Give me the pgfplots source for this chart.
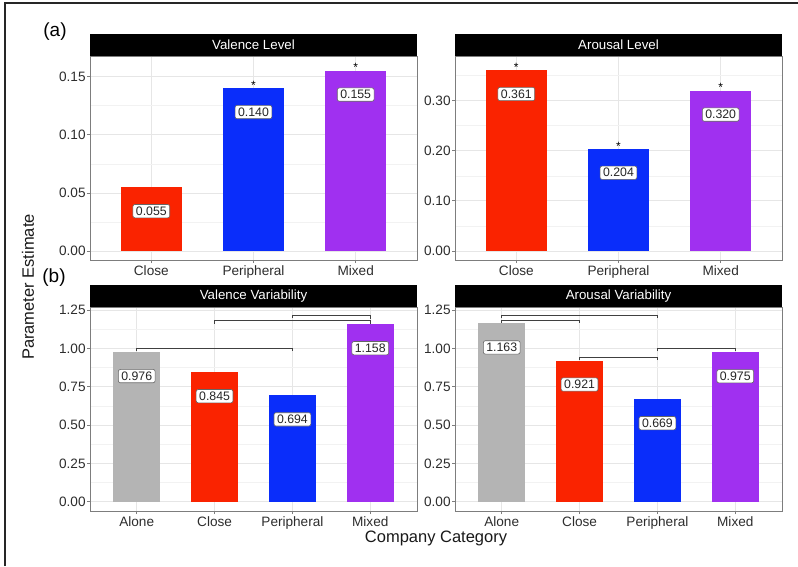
\documentclass[border=0pt]{standalone}
\usepackage{fontspec}
\setmainfont{Liberation Sans}
\usepackage{pgfplots}
\pgfplotsset{compat=1.18}
\definecolor{cAlone}{RGB}{180,180,180}
\definecolor{cClose}{RGB}{250,35,0}
\definecolor{cPeri}{RGB}{10,45,250}
\definecolor{cMixed}{RGB}{160,48,240}
\definecolor{gridmaj}{RGB}{230,230,230}
\definecolor{gridmin}{RGB}{242,242,242}
\definecolor{ticktxt}{RGB}{45,45,45}
\definecolor{pframe}{RGB}{125,125,125}
\tikzset{
  valbox/.style={fill=white, draw=black!60, rounded corners=2pt, line width=0.6pt,
    inner xsep=3pt, inner ysep=2.3pt, font=\fontsize{12.3}{14}\selectfont,
    text=black!85, anchor=center, yshift=-24pt},
}
\pgfplotsset{
  panel/.style={
    scale only axis, width=327pt, height=204pt, clip=false,
    axis line style={draw=pframe, line width=0.9pt},
    tick align=outside, major tick length=3pt, minor tick length=0pt,
    tick pos=left,
    major tick style={pframe, line width=0.8pt},
    xmajorgrids, ymajorgrids, yminorgrids,
    major grid style={gridmaj, line width=0.9pt},
    minor grid style={gridmin, line width=0.5pt},
    ticklabel style={font=\fontsize{13.6}{16}\selectfont, text=ticktxt},
    yticklabel style={inner sep=1.2pt,
      /pgf/number format/fixed, /pgf/number format/fixed zerofill,
      /pgf/number format/precision=2, /pgf/number format/assume math mode=true},
    xticklabel style={inner sep=2.6pt},
  },
  bar/.style={ybar, bar width=0.6, bar shift=0pt, draw=none, fill=#1,
    nodes near coords, point meta=explicit symbolic,
    nodes near coords style={valbox}},
  star/.style={draw=none, mark=none, nodes near coords={*},
    nodes near coords style={anchor=south, inner sep=0pt, yshift=-1.5pt,
      font=\fontsize{12}{14}\selectfont, text=black}},
  brk/.style={black!75, line width=0.8pt, mark=none},
}
\newcommand{\strip}[1]{\node[fill=black, text=white, minimum width=327.9pt,
  minimum height=22pt, inner sep=0pt, anchor=south,
  font=\fontsize{13.3}{15}\selectfont] at (rel axis cs:0.5,1) {#1};}
\begin{document}
\begin{tikzpicture}
\path[use as bounding box] (0,0) rectangle (798pt,-566pt);
\draw[black!85, line width=1.4pt] (5pt,-566pt) -- (5pt,-3pt) -- (798pt,-3pt);

% (a) Valence Level
\begin{axis}[panel, at={(90pt,-56pt)}, anchor=north west,
  xmin=0.4, xmax=3.6, xtick={1,2,3}, xticklabels={Close,Peripheral,Mixed},
  ymin=-0.0075, ymax=0.1675, ytick={0,0.05,0.10,0.15},
  minor ytick={0.025,0.075,0.125}]
\addplot[bar=cClose] coordinates {(1,0.055) [0.055]};
\addplot[bar=cPeri] coordinates {(2,0.140) [0.140]};
\addplot[bar=cMixed] coordinates {(3,0.155) [0.155]};
\addplot[star] coordinates {(2,0.140) (3,0.155)};
\strip{Valence Level}
\end{axis}

% (a) Arousal Level
\begin{axis}[panel, at={(455pt,-56pt)}, anchor=north west,
  xmin=0.4, xmax=3.6, xtick={1,2,3}, xticklabels={Close,Peripheral,Mixed},
  ymin=-0.018, ymax=0.389, ytick={0,0.1,0.2,0.3},
  minor ytick={0.05,0.15,0.25,0.35}]
\addplot[bar=cClose] coordinates {(1,0.361) [0.361]};
\addplot[bar=cPeri] coordinates {(2,0.204) [0.204]};
\addplot[bar=cMixed] coordinates {(3,0.320) [0.320]};
\addplot[star] coordinates {(1,0.361) (2,0.204) (3,0.320)};
\strip{Arousal Level}
\end{axis}

% (b) Valence Variability
\begin{axis}[panel, at={(90pt,-307pt)}, anchor=north west,
  xmin=0.4, xmax=4.6, xtick={1,2,3,4}, xticklabels={Alone,Close,Peripheral,Mixed},
  ymin=-0.06, ymax=1.27, ytick={0,0.25,0.5,0.75,1,1.25},
  minor ytick={0.125,0.375,0.625,0.875,1.125}]
\addplot[bar=cAlone] coordinates {(1,0.976) [0.976]};
\addplot[bar=cClose] coordinates {(2,0.845) [0.845]};
\addplot[bar=cPeri] coordinates {(3,0.694) [0.694]};
\addplot[bar=cMixed] coordinates {(4,1.158) [1.158]};
\addplot[brk] coordinates {(1,0.982) (1,1.0) (3,1.0) (3,0.982)};
\addplot[brk] coordinates {(2,1.162) (2,1.18) (4,1.18) (4,1.162)};
\addplot[brk] coordinates {(3,1.197) (3,1.215) (4,1.215) (4,1.19)};
\strip{Valence Variability}
\end{axis}

% (b) Arousal Variability
\begin{axis}[panel, at={(455pt,-307pt)}, anchor=north west,
  xmin=0.4, xmax=4.6, xtick={1,2,3,4}, xticklabels={Alone,Close,Peripheral,Mixed},
  ymin=-0.06, ymax=1.27, ytick={0,0.25,0.5,0.75,1,1.25},
  minor ytick={0.125,0.375,0.625,0.875,1.125}]
\addplot[bar=cAlone] coordinates {(1,1.163) [1.163]};
\addplot[bar=cClose] coordinates {(2,0.921) [0.921]};
\addplot[bar=cPeri] coordinates {(3,0.669) [0.669]};
\addplot[bar=cMixed] coordinates {(4,0.975) [0.975]};
\addplot[brk] coordinates {(1,1.197) (1,1.215) (3,1.215) (3,1.197)};
\addplot[brk] coordinates {(1,1.167) (1,1.185) (2,1.185) (2,1.167)};
\addplot[brk] coordinates {(2,0.925) (2,0.942) (3,0.942) (3,0.925)};
\addplot[brk] coordinates {(3,0.982) (3,1.0) (4,1.0) (4,0.982)};
\strip{Arousal Variability}
\end{axis}

\node[font=\fontsize{19}{22}\selectfont] at (55pt,-32pt) {(a)};
\node[font=\fontsize{19}{22}\selectfont] at (54pt,-278pt) {(b)};
\node[font=\fontsize{16.5}{19}\selectfont, rotate=90, text=black!90] at (28pt,-287pt) {Parameter Estimate};
\node[font=\fontsize{16.5}{19}\selectfont, anchor=base, text=black!90] at (436pt,-542.5pt) {Company Category};
\end{tikzpicture}
\end{document}
